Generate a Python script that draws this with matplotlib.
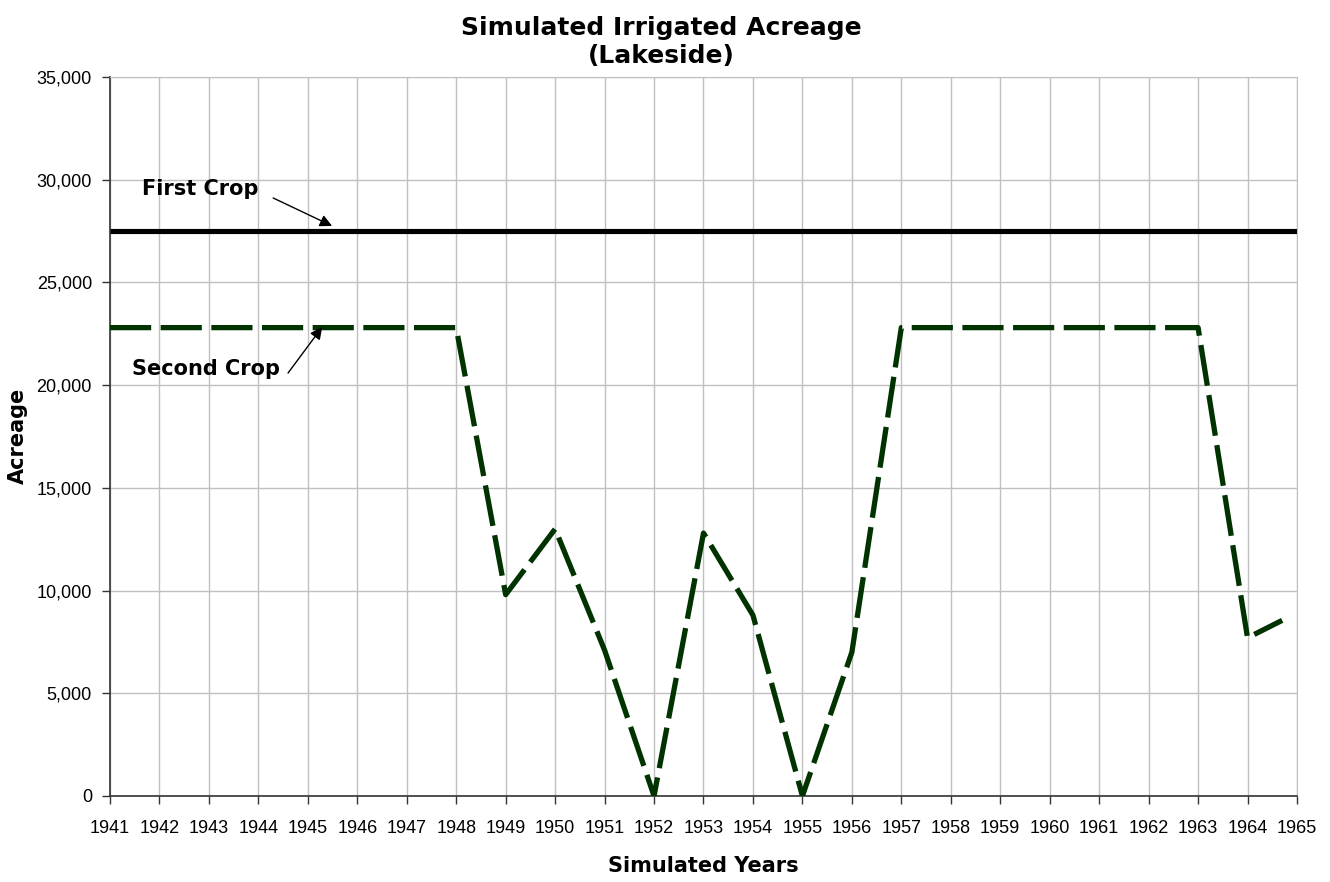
import matplotlib
matplotlib.use('Agg')
import matplotlib.pyplot as plt
from matplotlib.ticker import FuncFormatter, MultipleLocator

# data
first_years = list(range(1941, 1966))
first_crop = [27500] * len(first_years)
second_years = list(range(1941, 1965)) + [1964.7]
second_crop = [22800, 22800, 22800, 22800, 22800, 22800, 22800, 22800,
               9800, 13000, 7100, 0, 12800, 8800, 0, 7000,
               22800, 22800, 22800, 22800, 22800, 22800, 22800, 7700, 8550]
year_ticks = list(range(1941, 1966))

plt.rcParams['font.family'] = ['Liberation Sans', 'DejaVu Sans']
plt.rcParams['xtick.labelsize'] = 13
plt.rcParams['ytick.labelsize'] = 13
bold_font = ['DejaVu Sans']

fig = plt.figure(figsize=(13.3, 8.82), dpi=100)
ax = fig.add_axes([110/1330, 1-796/882, (1297-110)/1330, (796-77)/882])

ax.plot(first_years, first_crop, color='black', lw=3.7, solid_capstyle='butt', zorder=3)
ax.plot(second_years, second_crop, color='#003300', lw=3.8,
        linestyle=(0, (7.8, 1.8)), zorder=3)

ax.set_xlim(1941, 1965)
ax.set_ylim(0, 35000)
ax.set_xticks(year_ticks)
ax.yaxis.set_major_locator(MultipleLocator(5000))
ax.yaxis.set_major_formatter(FuncFormatter(lambda v, p: f'{int(v):,}'))
ax.grid(True, color='#c0c0c0', lw=1)
ax.set_axisbelow(True)

for s in ['top', 'right']:
    ax.spines[s].set_color('#c0c0c0')
for s in ['left', 'bottom']:
    ax.spines[s].set_color('#333333')
    ax.spines[s].set_linewidth(1.2)
ax.tick_params(direction='out', length=6, width=1, color='#333333')
ax.tick_params(axis='x', pad=11)
ax.tick_params(axis='y', pad=7)

fig.text(0.497, 0.982, 'Simulated Irrigated Acreage\n(Lakeside)', ha='center', va='top',
         fontsize=18, fontweight='bold', family=bold_font, linespacing=1.2)
fig.text(703/1330, 1-866/882, 'Simulated Years', ha='center', va='center',
         fontsize=15, fontweight='bold', family=bold_font)
fig.text(18/1330, 1-436/882, 'Acreage', ha='center', va='center', rotation=90,
         fontsize=15, fontweight='bold', family=bold_font)

ax.text(1942.82, 29550, 'First Crop', ha='center', va='center',
        fontsize=15, fontweight='bold', family=bold_font)
ax.annotate('', xy=(1945.49, 27750), xytext=(1944.3, 29110),
            arrowprops=dict(arrowstyle='-|>', color='black', lw=1, mutation_scale=18,
                            shrinkA=0, shrinkB=0))
ax.text(1942.94, 20790, 'Second Crop', ha='center', va='center',
        fontsize=15, fontweight='bold', family=bold_font)
ax.annotate('', xy=(1945.29, 22830), xytext=(1944.6, 20590),
            arrowprops=dict(arrowstyle='-|>', color='black', lw=1, mutation_scale=18,
                            shrinkA=0, shrinkB=0))

fig.savefig('out.png', dpi=100)
